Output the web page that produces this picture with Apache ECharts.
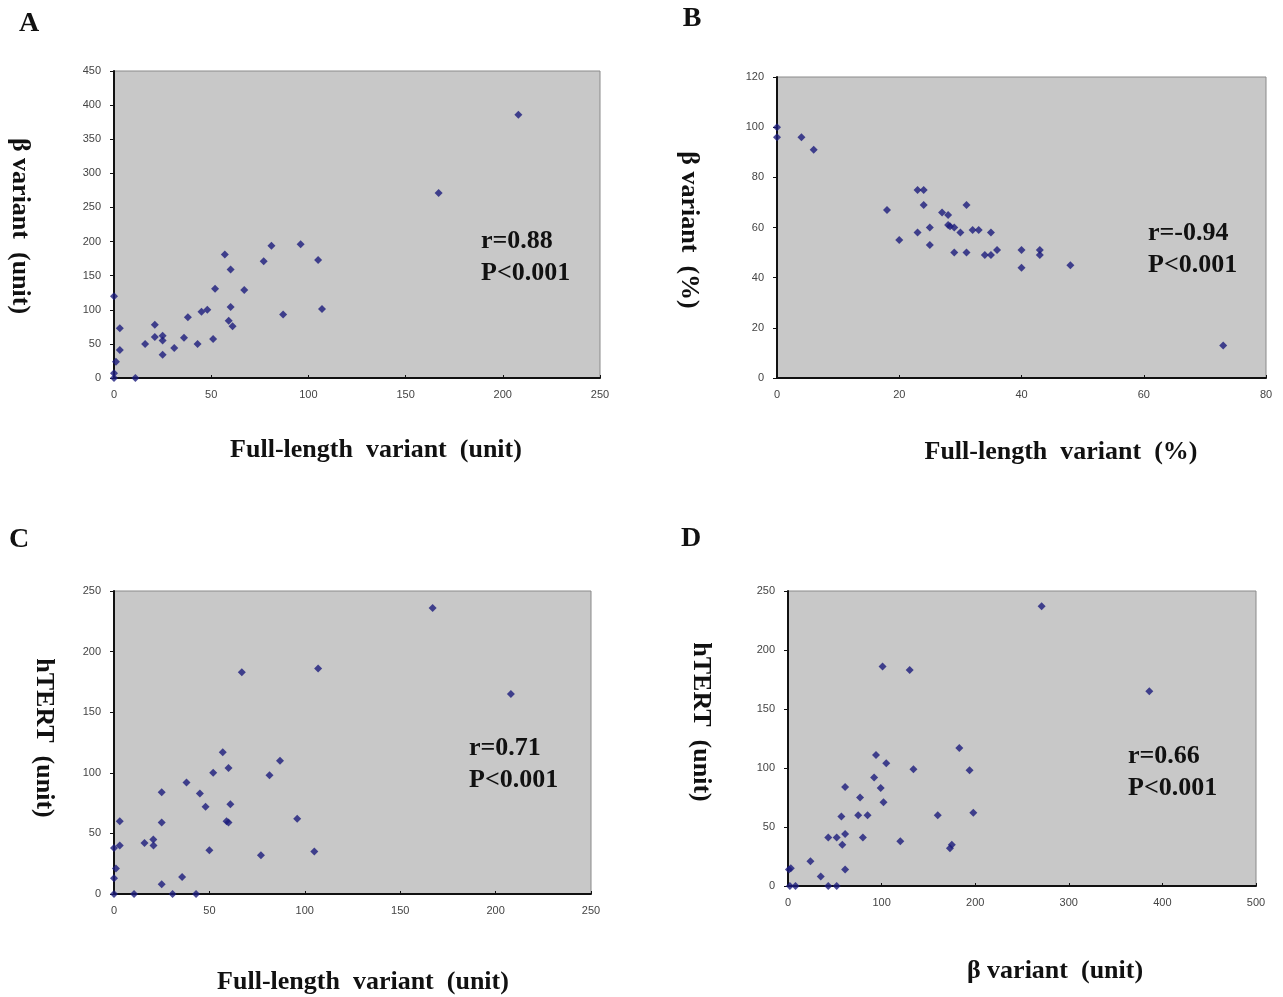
<!DOCTYPE html>
<html>
<head>
<meta charset="utf-8">
<script src="https://cdn.jsdelivr.net/npm/echarts@6/dist/echarts.min.js"></script>
<style>
  html, body { margin: 0; padding: 0; background: #fff; }
  #main { width: 1283px; height: 997px; }
</style>
</head>
<body>
<div id="main"></div>
<script>
// A: Full-length variant vs beta variant (unit)
var aX = [0,0,0,1,3,3,11,16,21,21,25,25,25,31,36,38,43,45,48,51,52,57,59,60,60,61,67,77,81,87,96,105,107,167,208];
var aY = [120,7,0,24,73,41,0,50,78,60,62,55,34,44,59,89,50,97,100,57,131,181,84,159,104,76,129,171,194,93,196,173,101,271,386];
// B: Full-length variant (%) vs beta variant (%)
var bX = [0,0,4,6,18,20,23,24,23,24,25,25,27,28,28,28.3,29,29,30,31,31,32,33,34,35,35,36,40,40,43,43,48,73];
var bY = [100,96,96,91,67,55,75,75,58,69,60,53,66,65,61,60.5,60,50,58,69,50,59,59,49,58,49,51,51,44,51,49,45,13];
// C: Full-length variant vs hTERT (unit)
var cX = [0,1,0,0,3,3,10.5,16,20.6,20.7,25,25,25,30.7,35.7,38,43,45,48,50,52,57,59,60,60,61,67,77,81.5,87,96,105,107,167,208];
var cY = [38,21,13,0,60,40,0,42,45,40,84,59,8,0,14,92,0,83,72,36,100,117,60,59,104,74,183,32,98,110,62,35,186,236,165];
// D: beta variant vs hTERT (unit)
var dX = [1,3,2,8,24,35,43,52,43,52,57,58,61,61,61,75,77,80,85,92,94,99,101,102,105,120,130,134,160,173,175,183,194,198,271,386];
var dY = [14,15,0,0,21,8,0,0,41,41,59,35,84,44,14,60,75,41,60,92,111,83,186,71,104,38,183,99,60,32,35,117,98,62,237,165];

// axis ranges [xmax, xstep, ymax, ystep]
var axA = [250, 50, 450, 50];
var axB = [80, 20, 120, 20];
var axC = [250, 50, 250, 50];
var axD = [500, 100, 250, 50];

var stats = [['r=0.88','P<0.001'], ['r=-0.94','P<0.001'], ['r=0.71','P<0.001'], ['r=0.66','P<0.001']];

function zip(xs, ys){
  var out = [];
  for (var i = 0; i < xs.length; i++) out.push([xs[i], ys[i]]);
  return out;
}

var grids = [
  {left: 114, top: 71, width: 486, height: 307},
  {left: 777, top: 77, width: 489, height: 301},
  {left: 114, top: 591, width: 477, height: 303},
  {left: 788, top: 591, width: 468, height: 295}
];
var axes = [axA, axB, axC, axD];
var sets = [[aX, aY], [bX, bY], [cX, cY], [dX, dY]];

var labelStyle = {fontFamily: 'Liberation Sans', fontSize: 11, color: '#444'};

var option = {
  backgroundColor: '#fff',
  animation: false,
  grid: grids.map(function(g){
    return Object.assign({show: true, backgroundColor: '#c8c8c8', borderColor: '#8a8a8a', borderWidth: 1}, g);
  }),
  xAxis: axes.map(function(a, i){
    return {
      type: 'value', gridIndex: i, min: 0, max: a[0], interval: a[1],
      splitLine: {show: false},
      axisLine: {show: true, onZero: false, lineStyle: {color: '#111', width: 2}},
      axisTick: {show: true, inside: true, length: 3, lineStyle: {color: '#111'}},
      axisLabel: Object.assign({margin: 11}, labelStyle)
    };
  }),
  yAxis: axes.map(function(a, i){
    return {
      type: 'value', gridIndex: i, min: 0, max: a[2], interval: a[3],
      splitLine: {show: false},
      axisLine: {show: true, onZero: false, lineStyle: {color: '#111', width: 2}},
      axisTick: {show: true, inside: false, length: 4, lineStyle: {color: '#111'}},
      axisLabel: Object.assign({margin: 13}, labelStyle)
    };
  }),
  series: sets.map(function(s, i){
    return {
      type: 'scatter', xAxisIndex: i, yAxisIndex: i,
      symbol: 'diamond', symbolSize: 8,
      itemStyle: {color: '#1c1c7c'},
      data: zip(s[0], s[1])
    };
  }),
  graphic: []
};

// panel letters
var letters = [['A', 29, 24], ['B', 692, 19], ['C', 19, 540], ['D', 691, 539]];
letters.forEach(function(l){
  option.graphic.push({type: 'text', x: l[1], y: l[2], style: {
    text: l[0], font: 'bold 28px "Liberation Serif"', fill: '#111', align: 'center', verticalAlign: 'middle'}});
});

// x axis titles
var xTitles = [['Full-length  variant  (unit)', 376, 450], ['Full-length  variant  (%)', 1061, 452],
               ['Full-length  variant  (unit)', 363, 982], ['\u03b2 variant  (unit)', 1055, 971]];
xTitles.forEach(function(t){
  option.graphic.push({type: 'text', x: t[1], y: t[2], style: {
    text: t[0], font: 'bold 26px "Liberation Serif"', fill: '#111', align: 'center', verticalAlign: 'middle'}});
});

// y axis titles (read top to bottom)
var yTitles = [['\u03b2 variant  (unit)', 20, 226], ['\u03b2 variant  (%)', 689, 230],
               ['hTERT  (unit)', 44, 738], ['hTERT  (unit)', 701, 722]];
yTitles.forEach(function(t){
  option.graphic.push({type: 'text', x: t[1], y: t[2], rotation: -Math.PI / 2, style: {
    text: t[0], font: 'bold 26px "Liberation Serif"', fill: '#111', align: 'center', verticalAlign: 'middle'}});
});

// correlation notes
var notePos = [[481, 241], [1148, 233], [469, 748], [1128, 756]];
notePos.forEach(function(p, i){
  option.graphic.push({type: 'text', x: p[0], y: p[1], style: {
    text: stats[i][0], font: 'bold 26px "Liberation Serif"', fill: '#111', align: 'left', verticalAlign: 'middle'}});
  option.graphic.push({type: 'text', x: p[0], y: p[1] + 32, style: {
    text: stats[i][1], font: 'bold 26px "Liberation Serif"', fill: '#111', align: 'left', verticalAlign: 'middle'}});
});

var chart = echarts.init(document.getElementById('main'));
chart.setOption(option);
</script>
</body>
</html>
